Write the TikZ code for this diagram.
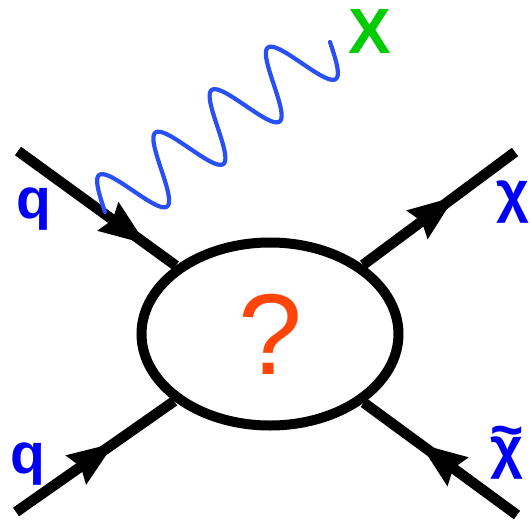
\documentclass[tikz,border=0pt]{standalone}
\usepackage{fontspec}
\setmainfont{Liberation Sans}
\usetikzlibrary{arrows.meta,decorations.markings,shapes.geometric}
\definecolor{qblue}{RGB}{0,0,245}
\definecolor{wblue}{RGB}{40,80,245}
\definecolor{xgreen}{RGB}{0,204,0}
\definecolor{qorange}{RGB}{255,69,10}
\tikzset{
  fermion/.style={line width=10.5pt, line cap=butt, draw=black},
  arrowat/.style={postaction={decorate}, decoration={markings,
     mark=at position #1 with {\arrow{Stealth[length=47pt,width=36pt,inset=6pt,line width=0pt]}}}},
  blob/.style={ellipse, draw=black, line width=10pt, minimum width=257pt, minimum height=183pt,
     inner sep=0pt, text=qorange, font=\fontsize{115}{115}\selectfont},
  lbl/.style={anchor=base, inner sep=0pt, text=qblue, font=\bfseries\fontsize{57}{57}\selectfont},
  wave/.style={draw=wblue, line width=4.2pt, line cap=round}
}
\begin{document}
\begin{tikzpicture}[x=1pt,y=-1pt]
\useasboundingbox (0,0) rectangle (531,523);
\node[blob] (b) at (270,334) {?};
\coordinate (tl) at (18,151);
\coordinate (bl) at (16,512);
\coordinate (tr) at (515,152);
\coordinate (br) at (517,515);
\draw[fermion, arrowat=158pt] (tl) -- (b);
\draw[fermion, arrowat=120pt] (bl) -- (b);
\draw[fermion, arrowat=114pt] (b) -- (tr);
\draw[fermion, arrowat=120pt] (br) -- (b);
\draw[wave] plot[domain=0:282, samples=300, smooth]
  ({105 + 0.7979*\x - 19.89*sin((\x/70.5)*360)}, {212 - 0.6028*\x - 26.33*sin((\x/70.5)*360)});
\node[lbl] (q1) at (34,218) {q};
\node[lbl] (q2) at (28,473) {q};
\node[lbl] (c1) at (513,211) {χ};
\node[lbl] (c2) at (507,467) {\ooalign{\hfil\raisebox{18pt}{\char"7E}\hfil\cr\hfil χ\hfil\cr}};
\node[anchor=base, inner sep=0pt, text=xgreen, font=\bfseries\fontsize{64}{64}\selectfont] (X) at (370,53) {X};
\end{tikzpicture}
\end{document}
